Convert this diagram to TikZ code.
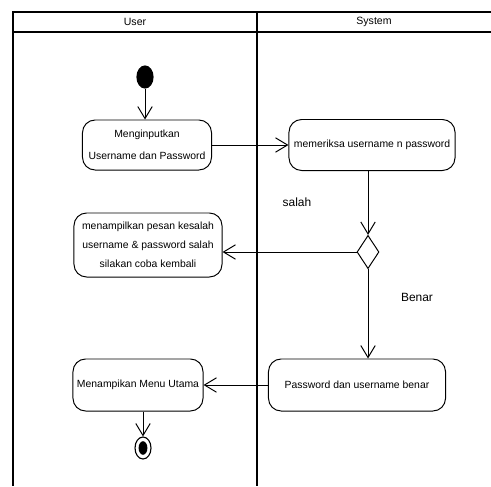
\documentclass[tikz,border=0pt]{standalone}
\usepackage{fontspec}
\setmainfont{Liberation Sans}
\usetikzlibrary{arrows.meta,positioning,shapes.geometric}

\begin{document}
\begin{tikzpicture}[
    x=0.025cm, y=-0.025cm,
    lane/.style={line width=1.5pt},
    act/.style={rectangle, draw, rounded corners=9pt, align=center, line width=0.7pt,
                inner sep=2pt, font=\fontsize{7.4}{13.5}\selectfont},
    arrow/.style={-{Straight Barb[length=3mm, width=3.6mm]}, line width=0.7pt},
    lbl/.style={font=\fontsize{8.5}{10}\selectfont}
]
\useasboundingbox (0,0) rectangle (491,486);

% swimlanes
\draw[lane] (491,12) -- (13,12) -- (13,486);
\draw[lane] (13,32) -- (491,32);
\draw[lane] (257,12) -- (257,486);
\node[font=\fontsize{7.5}{9}\selectfont] (laneuser) at (135,22) {User};
\node[font=\fontsize{7.5}{9}\selectfont] (lanesys)  at (374,22) {System};

% activities
\node[ellipse, fill, minimum width=0.43cm, minimum height=0.58cm, inner sep=0] (start) at (145,77) {};
\node[act, minimum width=3.225cm, minimum height=1.25cm] (input) at (147,145) {Menginputkan\\[2pt]Username dan Password};
\node[act, minimum width=4.15cm, minimum height=1.275cm] (cek) at (372,145) {memeriksa username n password};
\node[diamond, draw, line width=0.7pt, minimum width=0.55cm, minimum height=0.83cm, inner sep=0] (dec) at (368,252) {};
\node[act, minimum width=3.7cm, minimum height=1.6cm] (gagal) at (148,245) {menampilkan pesan kesalah\\username \& password salah\\silakan coba kembali};
\node[act, minimum width=4.425cm, minimum height=1.3cm] (benar) at (357,385) {Password dan username benar};
\node[act, minimum width=3.25cm, minimum height=1.3cm] (menu) at (138,385) {Menampikan Menu Utama};
\node[ellipse, draw, line width=0.8pt, minimum width=0.4cm, minimum height=0.55cm, inner sep=0] (end) at (143,448) {};
\node[ellipse, fill, minimum width=0.22cm, minimum height=0.34cm, inner sep=0] (endin) at (end) {};

\node[lbl] (salah) at (297,202) {salah};
\node[lbl] (benarlbl) at (417,297) {Benar};

% flows
\draw[arrow] (start) -- (start |- input.north);
\draw[arrow] (input) -- (cek);
\draw[arrow] (cek.south -| dec) -- (dec.north);
\draw[arrow] (dec.west) -- (dec.west -| gagal.east);
\draw[arrow] (dec.south) -- (dec |- benar.north);
\draw[arrow] (benar) -- (menu);
\draw[arrow] (menu.south -| end) -- (end.north);
\end{tikzpicture}
\end{document}
